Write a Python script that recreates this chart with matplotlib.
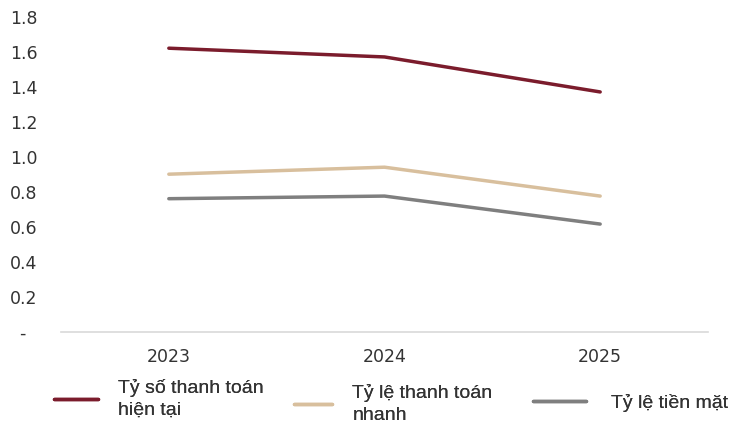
import matplotlib.pyplot as plt

# số liệu khả năng thanh toán
years = ['2023', '2024', '2025']
ty_so_hien_tai = [1.62, 1.57, 1.37]
ty_le_nhanh = [0.90, 0.94, 0.775]
ty_le_tien_mat = [0.76, 0.775, 0.615]
series_names = ['Tỷ số thanh toán\nhiện tại', 'Tỷ lệ thanh toán\nnhanh', 'Tỷ lệ tiền mặt']
y_ticks = [0, 0.2, 0.4, 0.6, 0.8, 1.0, 1.2, 1.4, 1.6, 1.8]

plt.rcParams['font.family'] = ['DejaVu Sans']

fig = plt.figure(figsize=(7.3, 4.24), dpi=100)
ax = fig.add_axes([61 / 730, 1 - 331.7 / 424, 647 / 730, 315 / 424])

colors = ['#7B1C2C', '#D8BF9D', '#7F7F7F']
x = range(len(years))
lines = []
for vals, name, c in zip([ty_so_hien_tai, ty_le_nhanh, ty_le_tien_mat], series_names, colors):
    ln, = ax.plot(x, vals, color=c, lw=2.5, label=name, solid_capstyle='round')
    lines.append(ln)

ax.set_xlim(-0.5, 2.5)
ax.set_ylim(0, 1.8)
ax.set_xticks(list(x))
ax.set_xticklabels(years)
ax.set_yticks(y_ticks)
ax.set_yticklabels(['-  '] + ['%.1f' % v for v in y_ticks[1:]])
for s in ['top', 'right', 'left']:
    ax.spines[s].set_visible(False)
ax.spines['bottom'].set_color('#D9D9D9')
ax.spines['bottom'].set_linewidth(1.2)
ax.tick_params(axis='both', length=0, labelsize=12.5, colors='#333333')
ax.tick_params(axis='x', pad=12)
ax.tick_params(axis='y', pad=17)

# chú thích: mỗi mục một legend riêng để đặt đúng cột
legend_pos = [(54 / 730, 1 - 399 / 424), (294 / 730, 1 - 404 / 424), (533 / 730, 1 - 403 / 424)]
handle_len = [2.25, 1.95, 2.7]
text_pad = [1.05, 1.05, 1.3]
for ln, pos, hl, tp in zip(lines, legend_pos, handle_len, text_pad):
    leg = fig.legend(handles=[ln], loc='center left', bbox_to_anchor=pos,
                     frameon=False, prop={'family': 'Liberation Sans', 'size': 14},
                     labelcolor='#333333', handlelength=hl, handletextpad=tp,
                     borderaxespad=0, borderpad=0)
    for t in leg.get_texts():
        t.set_linespacing(1.35)
    fig.add_artist(leg)

fig.savefig('out.png', dpi=100)
